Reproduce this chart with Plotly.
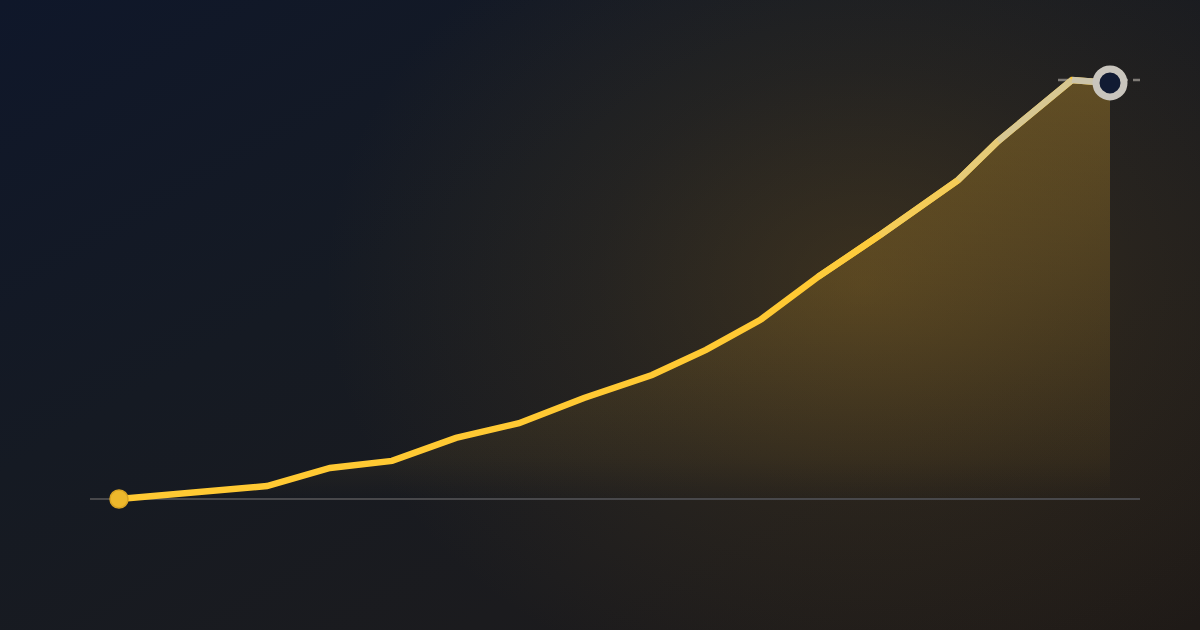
import plotly.graph_objects as go

# ---- data ----
DAYS = [0, 148, 211, 273, 337, 400, 465, 533, 587, 641, 699, 761, 839, 879, 953, 991]
VALUES = [0.0, 3.1, 7.4, 9.1, 14.6, 18.1, 24.1, 29.6, 35.6, 42.7, 53.0, 63.0, 76.1, 85.4, 100.0, 99.3]

# ---- styles ----
LINE_YELLOW = "#FFC933"
# colours of the last segments (line fades to a pale beige towards the end)
TAIL_COLORS = ["#FDCB3C", "#F4CC58", "#E6CB78", "#D7C792", "#CCC4AA"]

fig = go.Figure()

# area under the curve, vertical gradient (transparent at the baseline)
fig.add_trace(go.Scatter(
    x=DAYS, y=VALUES, mode="lines", line=dict(width=0),
    fill="tozeroy",
    fillgradient=dict(
        type="vertical",
        colorscale=[[0.0, "rgba(235,175,45,0.0)"],
                    [0.10, "rgba(235,175,45,0.06)"],
                    [1.0, "rgba(235,175,45,0.31)"]],
        start=0, stop=max(VALUES),
    ),
    hoverinfo="skip", showlegend=False,
))

# main line
fig.add_trace(go.Scatter(
    x=DAYS, y=VALUES, mode="lines",
    line=dict(color=LINE_YELLOW, width=6.5),
    hoverinfo="skip", showlegend=False,
))

# colour-faded tail segments drawn over the main line
n = len(DAYS)
start_seg = n - 1 - len(TAIL_COLORS)
for k, col in enumerate(TAIL_COLORS):
    i = start_seg + k
    fig.add_trace(go.Scatter(
        x=DAYS[i:i + 2], y=VALUES[i:i + 2], mode="lines",
        line=dict(color=col, width=6.5),
        hoverinfo="skip", showlegend=False,
    ))

# start marker
fig.add_trace(go.Scatter(
    x=DAYS[:1], y=VALUES[:1], mode="markers",
    marker=dict(size=18, color="#EDB82C", line=dict(width=1.5, color="#D9A423")),
    hoverinfo="skip", showlegend=False,
))

# end marker
fig.add_trace(go.Scatter(
    x=DAYS[-1:], y=VALUES[-1:], mode="markers",
    marker=dict(size=28, color="#111B33", line=dict(width=7, color="#C9C5BD")),
    hoverinfo="skip", showlegend=False,
))

x_range = [-29, 1021]
y_range = [-14.56, 109.55]

# dashed reference at the peak value
fig.add_shape(type="line", xref="x", yref="y",
              x0=939, x1=x_range[1], y0=max(VALUES), y1=max(VALUES),
              line=dict(color="#807C77", width=2.5, dash="10px,5px"),
              layer="below")

fig.update_layout(
    width=1200, height=630,
    margin=dict(l=90, r=60, t=40, b=70),
    paper_bgcolor="rgba(0,0,0,0)",
    plot_bgcolor="rgba(0,0,0,0)",
    xaxis=dict(range=x_range, showgrid=False, zeroline=False,
               showticklabels=False, showline=False, fixedrange=True),
    yaxis=dict(range=y_range, showgrid=False, zeroline=True,
               zerolinecolor="#48484B", zerolinewidth=1.5,
               showticklabels=False, showline=False, fixedrange=True),
    showlegend=False,
)

post = (
    "document.documentElement.style.margin='0';"
    "document.body.style.margin='0';"
    "document.body.style.background="
    "'radial-gradient(ellipse 540px 430px at 72% 45%, rgba(130,95,30,0.32) 0%, rgba(130,95,30,0.13) 50%, rgba(130,95,30,0) 100%),"
    " linear-gradient(150deg, #0f172a 0%, #151a23 36%, #1b1b1e 68%, #1f1a17 100%)';"
    "document.body.style.width='1200px';document.body.style.height='630px';"
    "document.body.style.overflow='hidden';"
)

fig.write_html("out.html", config={"displayModeBar": False, "staticPlot": True},
               post_script=post)
